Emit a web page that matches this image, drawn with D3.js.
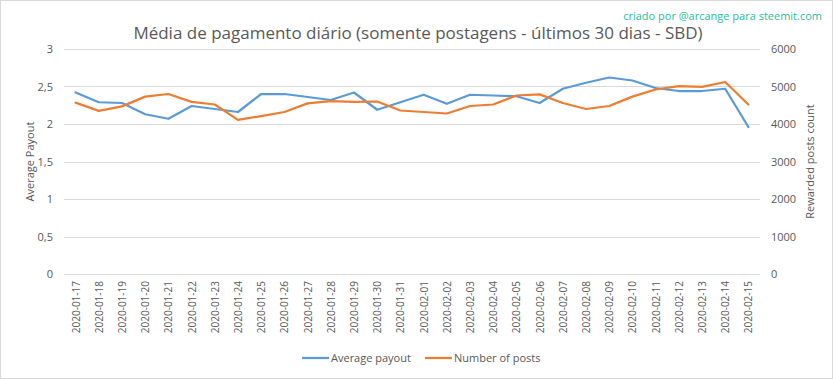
<!DOCTYPE html>
<html>
<head>
<meta charset="utf-8">
<script src="https://cdn.jsdelivr.net/npm/d3@7"></script>
<style>
  body { margin: 0; background: #fff; }
  svg text { font-family: "Open Sans", "Liberation Sans", sans-serif; fill: #595959; }
</style>
</head>
<body>
<div id="chart"></div>
<script>
'use strict'

// dates (category axis)
const dates = ['2020-01-17','2020-01-18','2020-01-19','2020-01-20','2020-01-21','2020-01-22','2020-01-23','2020-01-24','2020-01-25','2020-01-26',
    '2020-01-27','2020-01-28','2020-01-29','2020-01-30','2020-01-31','2020-02-01','2020-02-02','2020-02-03','2020-02-04','2020-02-05',
    '2020-02-06','2020-02-07','2020-02-08','2020-02-09','2020-02-10','2020-02-11','2020-02-12','2020-02-13','2020-02-14','2020-02-15']

// average payout (SBD) - left axis
const avgPayout = [2.42, 2.29, 2.28, 2.13, 2.07, 2.24, 2.20, 2.16, 2.40, 2.40,
    2.36, 2.32, 2.42, 2.19, 2.29, 2.39, 2.27, 2.39, 2.38, 2.37,
    2.28, 2.47, 2.55, 2.62, 2.58, 2.48, 2.44, 2.44, 2.47, 1.96]

// number of rewarded posts - right axis
const numPosts = [4570, 4350, 4470, 4730, 4800, 4590, 4520, 4110, 4210, 4320,
    4550, 4610, 4590, 4600, 4360, 4320, 4280, 4480, 4520, 4760,
    4790, 4560, 4400, 4480, 4730, 4920, 5010, 4990, 5120, 4520]

const leftTicks = [0, 0.5, 1, 1.5, 2, 2.5, 3]
const rightTicks = [0, 1000, 2000, 3000, 4000, 5000, 6000]

const series = [
    { name: 'Average payout', values: avgPayout, axis: 'left', color: '#5b9bd5' },
    { name: 'Number of posts', values: numPosts, axis: 'right', color: '#ed7d31' }
]

////////////////////////////////////
//////////// svg setup /////////////
////////////////////////////////////
const svgWidth = 833, svgHeight = 379
const margin = { left: 64, right: 73, top: 49, bottom: 105 }
const width = svgWidth - margin.left - margin.right
const height = svgHeight - margin.top - margin.bottom

const root = d3.select('#chart').append('svg')
    .attr('width', svgWidth)
    .attr('height', svgHeight)

// outer frame
root.append('rect')
    .attr('x', 0.5).attr('y', 0.5)
    .attr('width', svgWidth - 1).attr('height', svgHeight - 1)
    .attr('fill', 'none').attr('stroke', '#d9d9d9')

const svg = root.append('g')
    .attr('transform', `translate(${margin.left},${margin.top})`)

////////////////////////////////////
////////////// scales //////////////
////////////////////////////////////
const x = d3.scaleBand().domain(dates).range([0, width])
const yLeft = d3.scaleLinear().domain([0, 3]).range([height, 0])
const yRight = d3.scaleLinear().domain([0, 6000]).range([height, 0])

// gridlines
svg.selectAll('.grid')
    .data(leftTicks)
    .join('line')
    .attr('class', 'grid')
    .attr('x1', 0).attr('x2', width)
    .attr('y1', d => Math.round(yLeft(d)) + 0.5)
    .attr('y2', d => Math.round(yLeft(d)) + 0.5)
    .attr('stroke', '#d9d9d9')
    .attr('stroke-width', 1)

// left axis
const leftAxis = svg.append('g')
    .call(d3.axisLeft(yLeft).tickValues(leftTicks).tickSize(0).tickPadding(11)
        .tickFormat(d => String(d).replace('.', ',')))
leftAxis.select('.domain').remove()
leftAxis.selectAll('text').style('font-size', '11px')

// right axis
const rightAxis = svg.append('g')
    .attr('transform', `translate(${width},0)`)
    .call(d3.axisRight(yRight).tickValues(rightTicks).tickSize(0).tickPadding(11)
        .tickFormat(d => d))
rightAxis.select('.domain').remove()
rightAxis.selectAll('text').style('font-size', '11px')

// x axis labels (rotated)
const xAxis = svg.append('g')
    .attr('transform', `translate(0,${height})`)
    .call(d3.axisBottom(x).tickSize(0).tickPadding(0))
xAxis.select('.domain').remove()
xAxis.selectAll('text')
    .style('font-size', '10px')
    .attr('text-anchor', 'end')
    .attr('dy', null)
    .attr('y', 0)
    .attr('transform', 'translate(4,7) rotate(-90)')

////////////////////////////////////
////////////// lines ///////////////
////////////////////////////////////
series.forEach(s => {
    const yScale = s.axis === 'left' ? yLeft : yRight
    const line = d3.line()
        .x((d, i) => x(dates[i]) + x.bandwidth() / 2)
        .y(d => yScale(d))
    svg.append('path')
        .datum(s.values)
        .attr('d', line)
        .attr('fill', 'none')
        .attr('stroke', s.color)
        .attr('stroke-width', 2.25)
        .attr('stroke-linejoin', 'round')
        .attr('stroke-linecap', 'round')
})

////////////////////////////////////
////////////// titles //////////////
////////////////////////////////////
root.append('text')
    .attr('x', 418).attr('y', 39)
    .attr('text-anchor', 'middle')
    .style('font-size', '17px')
    .text('Média de pagamento diário (somente postagens - últimos 30 dias - SBD)')

root.append('text')
    .attr('x', 822).attr('y', 20)
    .attr('text-anchor', 'end')
    .style('font-size', '11px')
    .style('fill', '#1fbf9f')
    .text('criado por @arcange para steemit.com')

root.append('text')
    .attr('transform', `translate(34,${margin.top + height / 2}) rotate(-90)`)
    .attr('text-anchor', 'middle')
    .style('font-size', '11px')
    .text('Average Payout')

root.append('text')
    .attr('transform', `translate(814,${margin.top + height / 2}) rotate(-90)`)
    .attr('text-anchor', 'middle')
    .style('font-size', '11px')
    .text('Rewarded posts count')

////////////////////////////////////
////////////// legend //////////////
////////////////////////////////////
const legendX = [302, 425]
const legend = root.selectAll('.legend')
    .data(series)
    .join('g')
    .attr('class', 'legend')
    .attr('transform', (d, i) => `translate(${legendX[i]},358)`)

legend.append('line')
    .attr('x1', 0).attr('x2', 27)
    .attr('stroke', d => d.color)
    .attr('stroke-width', 2.25)

legend.append('text')
    .attr('x', 29).attr('y', 4)
    .style('font-size', '11px')
    .text(d => d.name)
</script>
</body>
</html>
